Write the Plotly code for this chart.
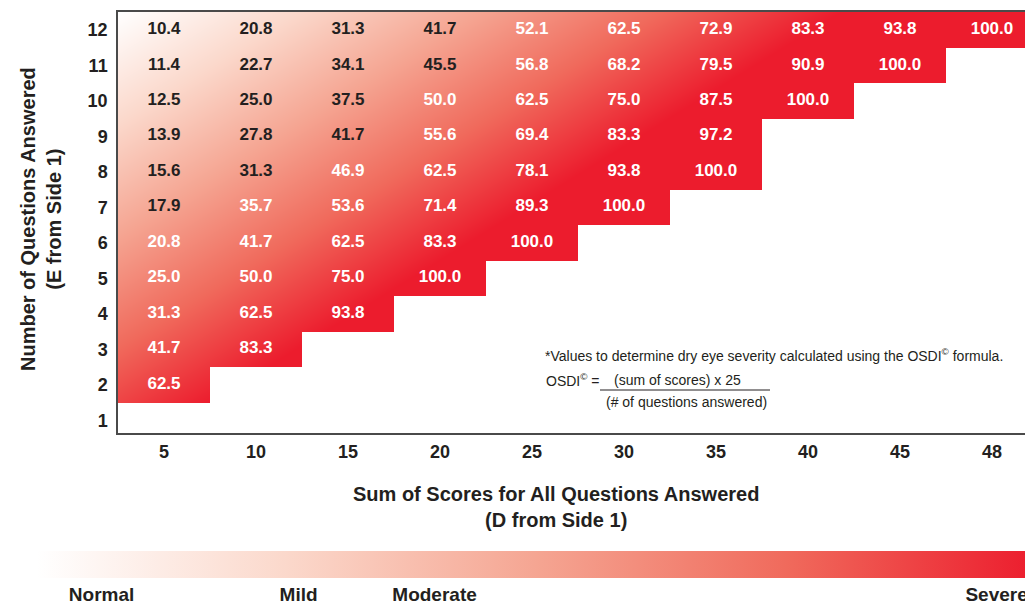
import plotly.graph_objects as go

# ---------------- data ----------------
sum_scores = [5, 10, 15, 20, 25, 30, 35, 40, 45, 48]          # x categories (D from Side 1)
questions_answered = [1, 2, 3, 4, 5, 6, 7, 8, 9, 10, 11, 12]  # y categories (E from Side 1)

q12 = [10.4, 20.8, 31.3, 41.7, 52.1, 62.5, 72.9, 83.3, 93.8, 100.0]
q11 = [11.4, 22.7, 34.1, 45.5, 56.8, 68.2, 79.5, 90.9, 100.0]
q10 = [12.5, 25.0, 37.5, 50.0, 62.5, 75.0, 87.5, 100.0]
q9 = [13.9, 27.8, 41.7, 55.6, 69.4, 83.3, 97.2]
q8 = [15.6, 31.3, 46.9, 62.5, 78.1, 93.8, 100.0]
q7 = [17.9, 35.7, 53.6, 71.4, 89.3, 100.0]
q6 = [20.8, 41.7, 62.5, 83.3, 100.0]
q5 = [25.0, 50.0, 75.0, 100.0]
q4 = [31.3, 62.5, 93.8]
q3 = [41.7, 83.3]
q2 = [62.5]
q1 = []

severity_labels = ["Normal", "Mild", "Moderate", "Severe"]

# number of dark-text labels at the start of each row (style)
dark_label_count = {12: 4, 11: 4, 10: 3, 9: 3, 8: 2, 7: 1}

# ---------------- assemble ----------------
rows = {1: q1, 2: q2, 3: q3, 4: q4, 5: q5, 6: q6, 7: q7, 8: q8,
        9: q9, 10: q10, 11: q11, 12: q12}
ncol = len(sum_scores)
col_idx = list(range(ncol))

mask_z = []
tx, ty, tt, tc = [], [], [], []
for q in questions_answered:
    vals = rows[q]
    mask_z.append([None if c < len(vals) else 1 for c in col_idx])
    for c, v in enumerate(vals):
        tx.append(c)
        ty.append(q)
        tt.append(f"{v:.1f}")
        tc.append("#231f20" if c < dark_label_count.get(q, 0) else "#ffffff")

FONT = "Liberation Sans, Arial, sans-serif"

red_scale = [[0.0, "#ffffff"], [0.25, "#fbd8cb"], [0.5, "#f5a592"],
             [0.75, "#f06a5c"], [1.0, "#ec1c2d"]]

# page body adds an 8px offset; the figure is sized to fill the rest of the window
PAGE = 8
W, H = 1033 - PAGE, 605 - PAGE
PL, PT, PR, PB = 118, 12, 1033, 433   # plot box in window pixels
PW, PH = PR - PL, PB - PT


def px(xw):
    return (xw - PL) / PW


def py(yw):
    return (PB - yw) / PH


x_lo, x_hi = -0.5, 9.446
y_lo, y_hi = 0.64, 12.5

fig = go.Figure()

# diagonal background shading (white top-left -> red bottom-right), also supplies the severity bar
fig.add_trace(go.Heatmap(
    x=[x_lo, x_hi], y=[y_lo, y_hi],
    z=[[0.942, 2.209], [0.0, 1.267]],
    zmin=0, zmax=1, zsmooth="best", colorscale=red_scale,
    hoverinfo="skip",
    colorbar=dict(
        orientation="h", xref="container", yref="container",
        x=(40 - PAGE) / W, xanchor="left", y=1 - (551 - PAGE) / H, yanchor="top",
        lenmode="pixels", len=1000, thickness=27, xpad=0, ypad=0,
        outlinewidth=0, ticks="", ticklabeloverflow="allow",
        tickvals=[0.065, 0.262, 0.398, 0.96], ticktext=severity_labels,
        tickfont=dict(family=FONT, size=19, color="#231f20", weight="bold"),
    ),
))

# white cover for combinations without a value
fig.add_trace(go.Heatmap(
    x=col_idx, y=questions_answered, z=mask_z,
    colorscale=[[0, "#ffffff"], [1, "#ffffff"]], showscale=False,
    hoverinfo="skip", zsmooth=False,
))

# values
fig.add_trace(go.Scatter(
    x=tx, y=ty, text=tt, mode="text",
    textfont=dict(family=FONT, size=17, color=tc, weight="bold"),
    hoverinfo="skip", showlegend=False,
))

fig.update_layout(
    width=W, height=H,
    margin=dict(l=PL - PAGE, r=W - (PR - PAGE), t=PT - PAGE, b=H - (PB - PAGE), autoexpand=False),
    paper_bgcolor="white", plot_bgcolor="white",
    showlegend=False,
    xaxis=dict(range=[x_lo, x_hi], tickvals=col_idx, ticktext=[str(s) for s in sum_scores],
               showgrid=False, zeroline=False, showline=True, linecolor="#4a4a4a",
               linewidth=1.5, mirror=True, ticks="", ticklabelstandoff=2, automargin=False,
               tickfont=dict(family=FONT, size=18, color="#231f20", weight="bold")),
    yaxis=dict(range=[y_lo, y_hi], tickvals=questions_answered,
               showgrid=False, zeroline=False, showline=True, linecolor="#4a4a4a",
               linewidth=1.5, mirror=False, ticks="", ticklabelstandoff=5, automargin=False,
               tickfont=dict(family=FONT, size=18, color="#231f20", weight="bold")),
)

fig.add_annotation(
    text="Sum of Scores for All Questions Answered<br>(D from Side 1)",
    xref="paper", yref="paper", x=px(556), y=py(481),
    xanchor="center", yanchor="top", showarrow=False,
    font=dict(family=FONT, size=20, color="#231f20", weight="bold"),
)
fig.add_annotation(
    text="Number of Questions Answered<br>(E from Side 1)",
    xref="paper", yref="paper", x=px(41), y=py(219),
    xanchor="center", yanchor="middle", textangle=-90, showarrow=False,
    font=dict(family=FONT, size=20, color="#231f20", weight="bold"),
)

note_font = dict(family=FONT, size=14, color="#231f20")
fig.add_annotation(
    text="*Values to determine dry eye severity calculated using the OSDI<sup>©</sup> formula.",
    xref="paper", yref="paper", x=px(543), y=py(355),
    xanchor="left", yanchor="middle", showarrow=False, font=note_font,
)
fig.add_annotation(
    text="OSDI<sup>©</sup> =",
    xref="paper", yref="paper", x=px(544), y=py(380),
    xanchor="left", yanchor="middle", showarrow=False, font=note_font,
)
fig.add_annotation(
    text="(sum of scores) x 25",
    xref="paper", yref="paper", x=px(677), y=py(380),
    xanchor="center", yanchor="middle", showarrow=False, font=note_font,
)
fig.add_annotation(
    text="(# of questions answered)",
    xref="paper", yref="paper", x=px(686), y=py(402),
    xanchor="center", yanchor="middle", showarrow=False, font=note_font,
)
fig.add_shape(
    type="line", xref="paper", yref="paper",
    x0=px(600), x1=px(770), y0=py(390), y1=py(390),
    line=dict(color="#231f20", width=1),
)

fig.write_html("out.html")
